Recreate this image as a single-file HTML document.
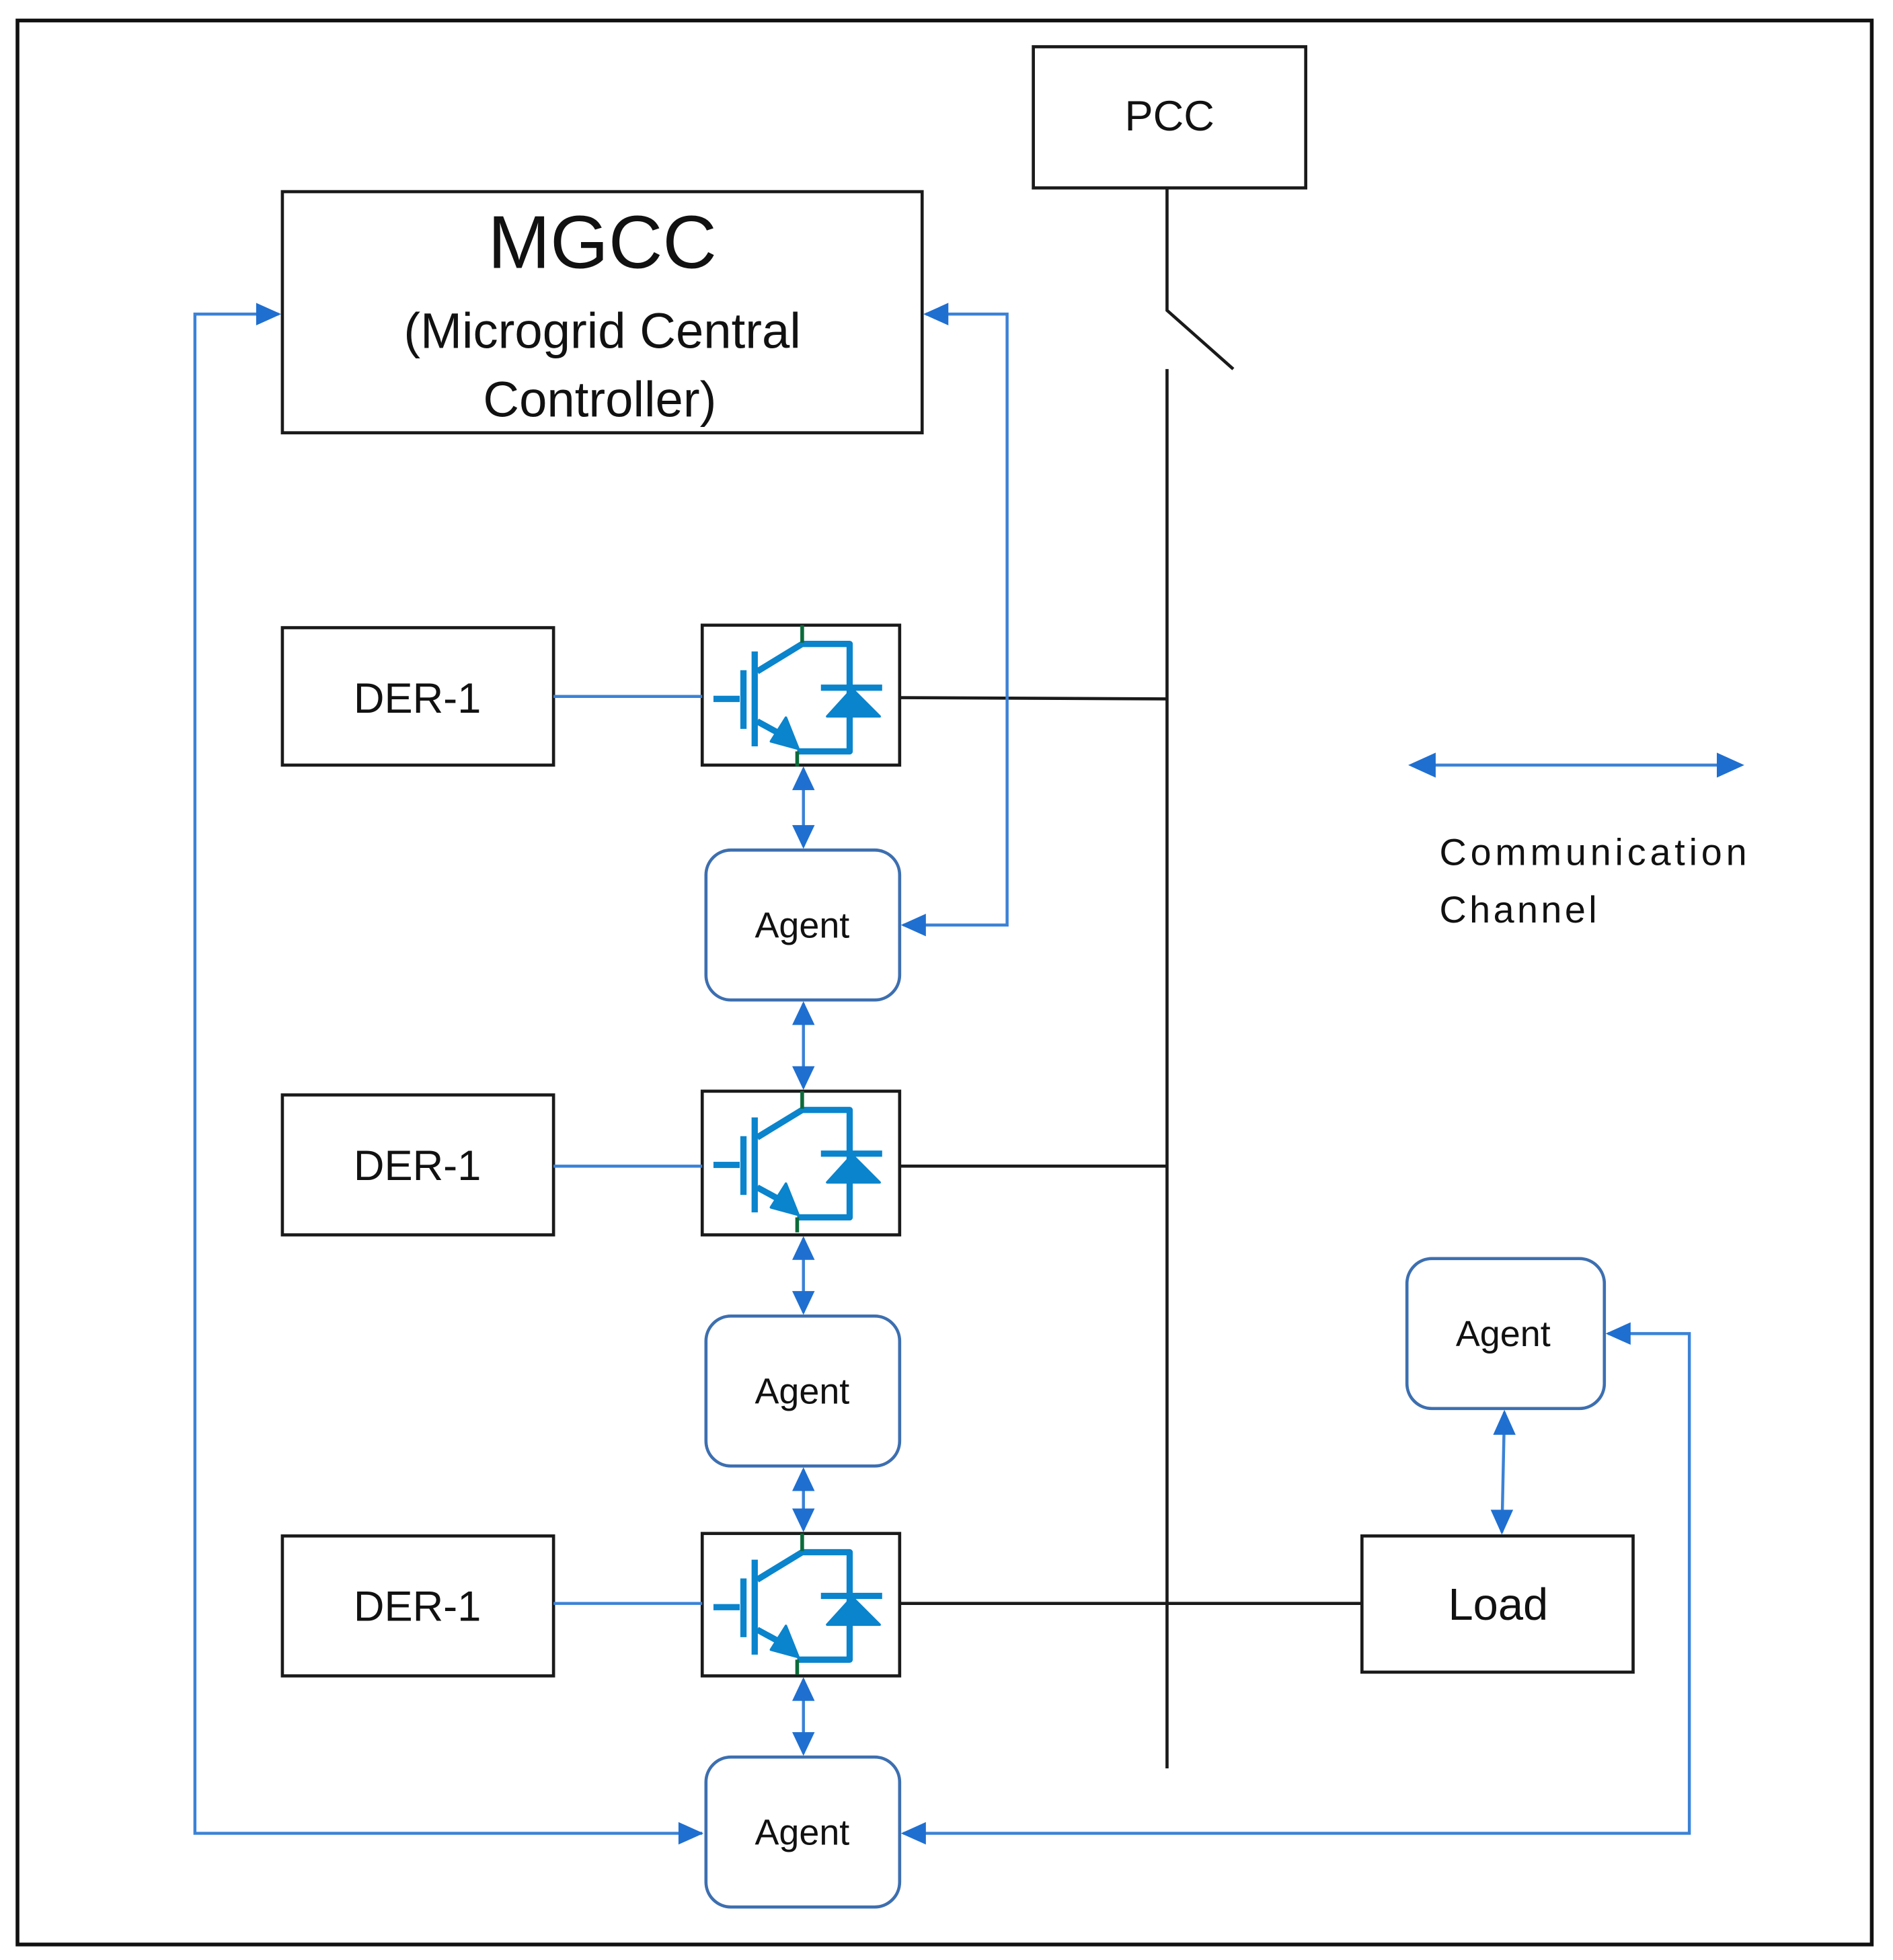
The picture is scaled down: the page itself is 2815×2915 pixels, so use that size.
<!DOCTYPE html>
<html><head><meta charset="utf-8"><style>
html,body{margin:0;padding:0;background:#fff;}
svg{display:block;}
text{font-family:"Liberation Sans",sans-serif;fill:#111;}
</style></head><body>
<svg width="2815" height="2915" viewBox="0 0 1515 1568" xmlns="http://www.w3.org/2000/svg">
<defs>
<g id="igbt" fill="none" stroke="#0a84cc" stroke-width="5" stroke-linejoin="round">
<line x1="9" y1="59" x2="30" y2="59"/>
<line x1="33" y1="36" x2="33" y2="83"/>
<line x1="42" y1="21" x2="42" y2="97"/>
<polyline points="44,37 80,15 118,15 118,101 76,101"/>
<line x1="44" y1="77" x2="66" y2="89"/>
<polygon points="77,99 55,93 67,74" fill="#0a84cc" stroke-width="2"/>
<line x1="95" y1="50" x2="144" y2="50"/>
<polygon points="120,51 100,73 142,73" fill="#0a84cc" stroke-width="2"/>
<line x1="80" y1="0" x2="80" y2="14" stroke="#0b6b3a" stroke-width="3"/>
<line x1="76" y1="101" x2="76" y2="113" stroke="#0b6b3a" stroke-width="3"/>
</g>
</defs>
<rect x="14" y="16" width="1484" height="1540" fill="none" stroke="#111" stroke-width="3"/>
<g fill="none" stroke="#1a1a1a" stroke-width="2.5">
<rect x="827" y="37" width="218" height="113"/>
<rect x="226" y="153" width="512" height="193"/>
<rect x="226" y="502" width="217" height="110"/>
<rect x="226" y="876" width="217" height="112"/>
<rect x="226" y="1229" width="217" height="112"/>
<rect x="562" y="500" width="158" height="112"/>
<rect x="562" y="873" width="158" height="115"/>
<rect x="562" y="1227" width="158" height="114"/>
<rect x="1090" y="1229" width="217" height="109"/>
<polyline points="934,150 934,248 987,295"/>
<line x1="934" y1="295" x2="934" y2="1415"/>
<line x1="720" y1="558" x2="934" y2="559"/>
<line x1="720" y1="933" x2="934" y2="933"/>
<line x1="720" y1="1283" x2="1090" y2="1283"/>
</g>
<use href="#igbt" x="562" y="500"/>
<use href="#igbt" x="562" y="873"/>
<use href="#igbt" x="562" y="1227"/>
<g fill="none" stroke="#3d6fb0" stroke-width="2.5">
<rect x="565" y="680" width="155" height="120" rx="20"/>
<rect x="565" y="1053" width="155" height="120" rx="20"/>
<rect x="565" y="1406" width="155" height="120" rx="20"/>
<rect x="1126" y="1007" width="158" height="120" rx="20"/>
</g>
<g fill="none" stroke="#3b82d6" stroke-width="2.4">
<line x1="443" y1="557" x2="562" y2="557"/>
<line x1="443" y1="933" x2="562" y2="933"/>
<line x1="443" y1="1283" x2="562" y2="1283"/>
<polyline points="723,740 806,740 806,251 741,251"/>
<polyline points="223,251 156,251 156,1467 562,1467"/>
<polyline points="723,1467 1352,1467 1352,1067 1287,1067"/>
<line x1="643" y1="615" x2="643" y2="677"/>
<line x1="643" y1="803" x2="643" y2="870"/>
<line x1="643" y1="991" x2="643" y2="1050"/>
<line x1="643" y1="1176" x2="643" y2="1224"/>
<line x1="643" y1="1344" x2="643" y2="1403"/>
<line x1="1204" y1="1130" x2="1202" y2="1226"/>
<line x1="1130" y1="612" x2="1393" y2="612"/>
</g>
<g fill="#1f6fd0">
<polygon points="721,740 741,731 741,749"/>
<polygon points="739,251 759,242 759,260"/>
<polygon points="225,251 205,242 205,260"/>
<polygon points="563,1467 543,1458 543,1476"/>
<polygon points="721,1467 741,1458 741,1476"/>
<polygon points="1285,1067 1305,1058 1305,1076"/>
<polygon points="1127,612 1149,602 1149,622"/>
<polygon points="1396,612 1374,602 1374,622"/>
<polygon points="643,613 634,632 652,632"/><polygon points="643,679 634,660 652,660"/>
<polygon points="643,801 634,820 652,820"/><polygon points="643,872 634,853 652,853"/>
<polygon points="643,989 634,1008 652,1008"/><polygon points="643,1052 634,1033 652,1033"/>
<polygon points="643,1174 634,1193 652,1193"/><polygon points="643,1226 634,1207 652,1207"/>
<polygon points="643,1342 634,1361 652,1361"/><polygon points="643,1405 634,1386 652,1386"/>
<polygon points="1204,1128 1195,1148 1213,1148"/><polygon points="1202,1228 1193,1208 1211,1208"/>
</g>
<g text-anchor="middle">
<text x="936" y="104" font-size="34">PCC</text>
<text x="482" y="214" font-size="60">MGCC</text>
<text x="482" y="278" font-size="40">(Microgrid Central</text>
<text x="480" y="333" font-size="40">Controller)</text>
<text x="334" y="570" font-size="34">DER-1</text>
<text x="334" y="944" font-size="34">DER-1</text>
<text x="334" y="1297" font-size="34">DER-1</text>
<text x="642" y="750" font-size="29">Agent</text>
<text x="642" y="1123" font-size="29">Agent</text>
<text x="642" y="1476" font-size="29">Agent</text>
<text x="1203" y="1077" font-size="29">Agent</text>
<text x="1199" y="1296" font-size="36">Load</text>
</g>
<text x="1152" y="692" font-size="30" textLength="246" lengthAdjust="spacing">Communication</text>
<text x="1152" y="738" font-size="30" textLength="126" lengthAdjust="spacing">Channel</text>
</svg>
</body></html>
